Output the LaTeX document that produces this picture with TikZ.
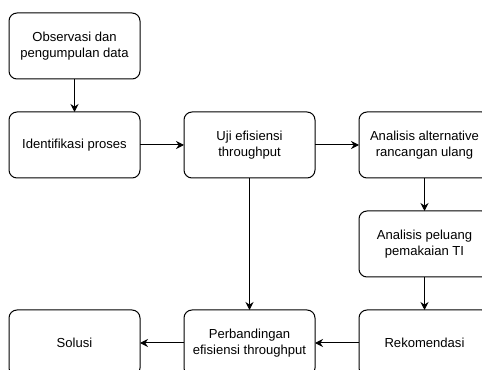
\documentclass[tikz,border=0pt]{standalone}
\usepackage{fontspec}
\setmainfont{Liberation Sans}
\usetikzlibrary{positioning,arrows.meta}

\begin{document}
\begin{tikzpicture}[x=0.75pt, y=-0.75pt, node distance=24.75pt and 33pt,
  every node/.style={font=\fontsize{9.8}{11.8}\selectfont},
  box/.style={draw, rounded corners=6pt, line width=0.75pt, align=center, minimum width=98.25pt, minimum height=49.5pt, inner sep=2pt, outer sep=0pt},
  arr/.style={-{Stealth[length=6pt,width=6pt]}, line width=0.75pt}]
\useasboundingbox (0,0) rectangle (482,370);
\clip (0,0) rectangle (482,370);
\node[box] (obs) at (74.5,46) {Observasi dan\\ pengumpulan data};
\node[box, below=of obs] (idf) {Identifikasi proses};
\node[box, right=of idf] (uji) {Uji efisiensi\\ throughput};
\node[box, right=of uji] (alt) {Analisis alternative\\ rancangan ulang};
\node[box, below=of alt] (pel) {Analisis peluang\\ pemakaian TI};
\node[box, below=of pel] (rek) {Rekomendasi};
\node[box, left=of rek] (prb) {Perbandingan\\ efisiensi throughput};
\node[box, left=of prb] (sol) {Solusi};
\draw[arr] (obs) -- (idf); \draw[arr] (idf) -- (uji); \draw[arr] (uji) -- (alt);
\draw[arr] (alt) -- (pel); \draw[arr] (pel) -- (rek); \draw[arr] (uji) -- (prb);
\draw[arr] (rek) -- (prb); \draw[arr] (prb) -- (sol);
\end{tikzpicture}
\end{document}
